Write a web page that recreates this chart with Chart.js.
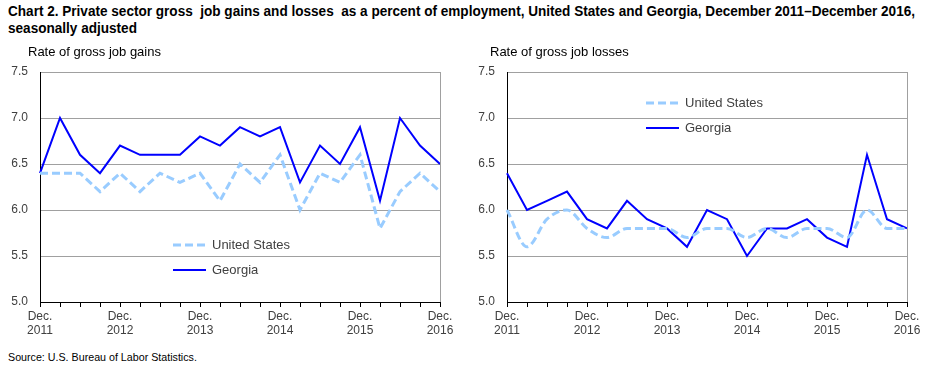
<!DOCTYPE html>
<html><head><meta charset="utf-8">
<script src="https://cdn.jsdelivr.net/npm/chart.js@4"></script>
<style>
html,body{margin:0;padding:0;background:#fff;}
#wrap{position:relative;width:930px;height:372px;overflow:hidden;font-family:Arial,"Liberation Sans",sans-serif;}
#title{position:absolute;left:8px;top:3px;font-family:Arial,"Liberation Sans",sans-serif;font-weight:bold;font-size:14px;line-height:17px;color:#000;white-space:nowrap;transform-origin:0 0;}
#source{position:absolute;left:8px;top:351px;font-size:10.7px;color:#000;}
canvas{position:absolute;top:45px;}
#c1{left:0;} #c2{left:465px;}
</style></head>
<body><div id="wrap">
<div id="title"><span id="t1">Chart 2. Private sector gross &nbsp;job gains and losses &nbsp;as a percent of employment, United States and Georgia, December 2011–December 2016,</span><br>seasonally adjusted</div>
<canvas id="c1" width="465" height="300"></canvas>
<canvas id="c2" width="465" height="300"></canvas>
<div id="source">Source: U.S. Bureau of Labor Statistics.</div>
</div>
<script>
const categories = ['Dec. 2011','Mar. 2012','Jun. 2012','Sep. 2012','Dec. 2012','Mar. 2013','Jun. 2013','Sep. 2013','Dec. 2013','Mar. 2014','Jun. 2014','Sep. 2014','Dec. 2014','Mar. 2015','Jun. 2015','Sep. 2015','Dec. 2015','Mar. 2016','Jun. 2016','Sep. 2016','Dec. 2016'];
const gainsUS = [6.4,6.4,6.4,6.2,6.4,6.2,6.4,6.3,6.4,6.1,6.5,6.3,6.6,6.0,6.4,6.3,6.6,5.8,6.2,6.4,6.2];
const gainsGA = [6.4,7.0,6.6,6.4,6.7,6.6,6.6,6.6,6.8,6.7,6.9,6.8,6.9,6.3,6.7,6.5,6.9,6.1,7.0,6.7,6.5];
const lossesUS = [6.0,5.6,5.9,6.0,5.8,5.7,5.8,5.8,5.8,5.7,5.8,5.8,5.7,5.8,5.7,5.8,5.8,5.7,6.0,5.8,5.8];
const lossesGA = [6.4,6.0,6.1,6.2,5.9,5.8,6.1,5.9,5.8,5.6,6.0,5.9,5.5,5.8,5.8,5.9,5.7,5.6,6.6,5.9,5.8];
const yTicks = [5.0,5.5,6.0,6.5,7.0,7.5];
const seriesNames = ['United States','Georgia'];

// fit title first line to the reference width
(function(){
  const t1 = document.getElementById('t1');
  const w = t1.getBoundingClientRect().width;
  const s = Math.min(1, 907 / w);
  document.getElementById('title').style.transform = 'scaleX(' + s + ')';
})();

const US_COLOR = '#99ccff', GA_COLOR = '#0000ff', TXT = '#404040';

function makeChart(id, us, ga, axisTitle, legendPos, yWidth, padRight, usTension){
  const overlay = {
    id:'overlay',
    afterDraw(chart){
      const ctx = chart.ctx, a = chart.chartArea;
      ctx.save();
      ctx.strokeStyle = '#a0a0a0'; ctx.lineWidth = 1;
      ctx.beginPath(); ctx.moveTo(Math.round(a.right)+0.5, a.top); ctx.lineTo(Math.round(a.right)+0.5, a.bottom); ctx.stroke();
      ctx.fillStyle = '#000'; ctx.font = '13px Arial, "Liberation Sans", sans-serif';
      ctx.textBaseline = 'middle'; ctx.textAlign = 'left';
      ctx.fillText(axisTitle, axisTitle.indexOf('gains')>0 ? 28 : 25, 7);
      const [lx, ly] = legendPos;
      ctx.font = '13px Arial, "Liberation Sans", sans-serif'; ctx.fillStyle = TXT;
      ctx.strokeStyle = US_COLOR; ctx.lineWidth = 3; ctx.setLineDash([8,4]);
      ctx.beginPath(); ctx.moveTo(lx, ly); ctx.lineTo(lx+33, ly); ctx.stroke();
      ctx.setLineDash([]);
      ctx.strokeStyle = GA_COLOR; ctx.lineWidth = 2;
      ctx.beginPath(); ctx.moveTo(lx, ly+25); ctx.lineTo(lx+33, ly+25); ctx.stroke();
      ctx.fillText(seriesNames[0], lx+39, ly);
      ctx.fillText(seriesNames[1], lx+39, ly+25);
      ctx.restore();
    }
  };
  return new Chart(document.getElementById(id), {
    type:'line',
    data:{ labels: categories, datasets:[
      {label:seriesNames[0], data:us, borderColor:US_COLOR, borderWidth:3, borderDash:[8,4], pointRadius:0, tension:usTension, cubicInterpolationMode: usTension? 'monotone':'default', fill:false},
      {label:seriesNames[1], data:ga, borderColor:GA_COLOR, borderWidth:2, pointRadius:0, tension:0, fill:false}
    ]},
    options:{
      responsive:false, animation:false, devicePixelRatio:1,
      layout:{padding:{top:27, right:padRight, left:0, bottom:0}},
      plugins:{legend:{display:false}, tooltip:{enabled:false}, title:{display:false}},
      scales:{
        x:{
          type:'category', offset:false,
          grid:{drawOnChartArea:false, drawTicks:true, tickLength:5, color:'#000', tickColor:'#000'},
          border:{display:true, color:'#000', width:1},
          ticks:{autoSkip:false, maxRotation:0, minRotation:0, color:TXT, padding:2,
            font:{size:12, family:'Arial, "Liberation Sans", sans-serif', lineHeight:1.2},
            callback:(v,i)=> i%4===0 ? categories[i].split(' ') : ''},
          afterFit(s){ s.height = 43; }
        },
        y:{
          min:yTicks[0], max:yTicks[yTicks.length-1],
          afterBuildTicks(s){ s.ticks = yTicks.map(v=>({value:v})); },
          grid:{color:'#a0a0a0', drawTicks:false, lineWidth:1},
          border:{display:true, color:'#000', width:1},
          ticks:{color:TXT, padding:12, font:{size:12, family:'Arial, "Liberation Sans", sans-serif'},
            callback:v=>Number(v).toFixed(1)},
          afterFit(s){ s.width = yWidth; }
        }
      }
    },
    plugins:[overlay]
  });
}
makeChart('c1', gainsUS, gainsGA, 'Rate of gross job gains', [173,200], 40, 25, 0);
makeChart('c2', lossesUS, lossesGA, 'Rate of gross job losses', [181,58], 42, 23, 0.4);
</script>
</body></html>
